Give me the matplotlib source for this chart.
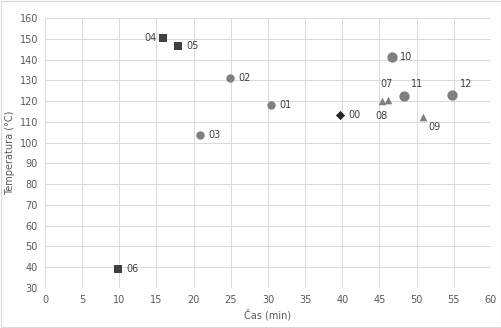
import matplotlib.pyplot as plt

# sample labels, time (min), temperature (C)
labels = ['00', '01', '02', '03', '04', '05', '06', '07', '08', '09', '10', '11', '12']
cas = [39.7, 30.4, 24.9, 20.9, 15.9, 17.9, 9.8, 46.1, 45.4, 50.8, 46.7, 48.3, 54.7]
temp = [113.5, 118.3, 131.3, 103.7, 150.6, 146.5, 39.2, 120.6, 119.9, 112.4, 141.3, 122.5, 123.1]
groups = ['d', 'c', 'c', 'c', 's', 's', 's', 't', 't', 't', 'c', 'c', 'c']

styles = {
    'd': dict(marker='D', color='#262626', s=22),
    'c': dict(marker='o', color='#7f7f7f', s=36),
    's': dict(marker='s', color='#404040', s=36),
    't': dict(marker='^', color='#7f7f7f', s=30),
}
big = {'10', '11', '12'}

# label offsets in points
offsets = {'04': (-5, 0, 'right', 'center'), '07': (-1, 8, 'center', 'bottom'),
           '08': (-1, -7, 'center', 'top'), '11': (5, 5, 'left', 'bottom'),
           '12': (6, 4, 'left', 'bottom'), '09': (4, -4, 'left', 'top')}

fig = plt.figure(figsize=(5.02, 3.28), dpi=100)
ax = fig.add_axes([0.0896, 0.122, 0.8884, 0.823])

for lab, x, y, g in zip(labels, cas, temp, groups):
    st = dict(styles[g])
    if lab in big:
        st['s'] = 55
    ax.scatter(x, y, zorder=3, linewidths=0, **st)
    dx, dy, ha, va = offsets.get(lab, (6, 0, 'left', 'center'))
    ax.annotate(lab, (x, y), xytext=(dx, dy), textcoords='offset points',
                ha=ha, va=va, fontsize=7, color='#404040')

ax.set_xlim(0, 60)
ax.set_ylim(30, 160)
ax.set_xticks(range(0, 61, 5))
ax.set_yticks(range(30, 161, 10))
ax.grid(color='#d9d9d9', linewidth=0.7)
ax.set_axisbelow(True)
for sp in ax.spines.values():
    sp.set_visible(False)
ax.tick_params(length=0, labelsize=7, labelcolor='#595959', pad=5)
ax.set_xlabel('Čas (min)', fontsize=7, color='#595959', labelpad=3)
ax.set_ylabel('Temperatura (°C)', fontsize=7, color='#595959', labelpad=3)

fig.patches.append(plt.Rectangle((0.002, 0.003), 0.996, 0.994, transform=fig.transFigure,
                                 fill=False, edgecolor='#d9d9d9', linewidth=0.8))
fig.savefig('out.png', dpi=100)
